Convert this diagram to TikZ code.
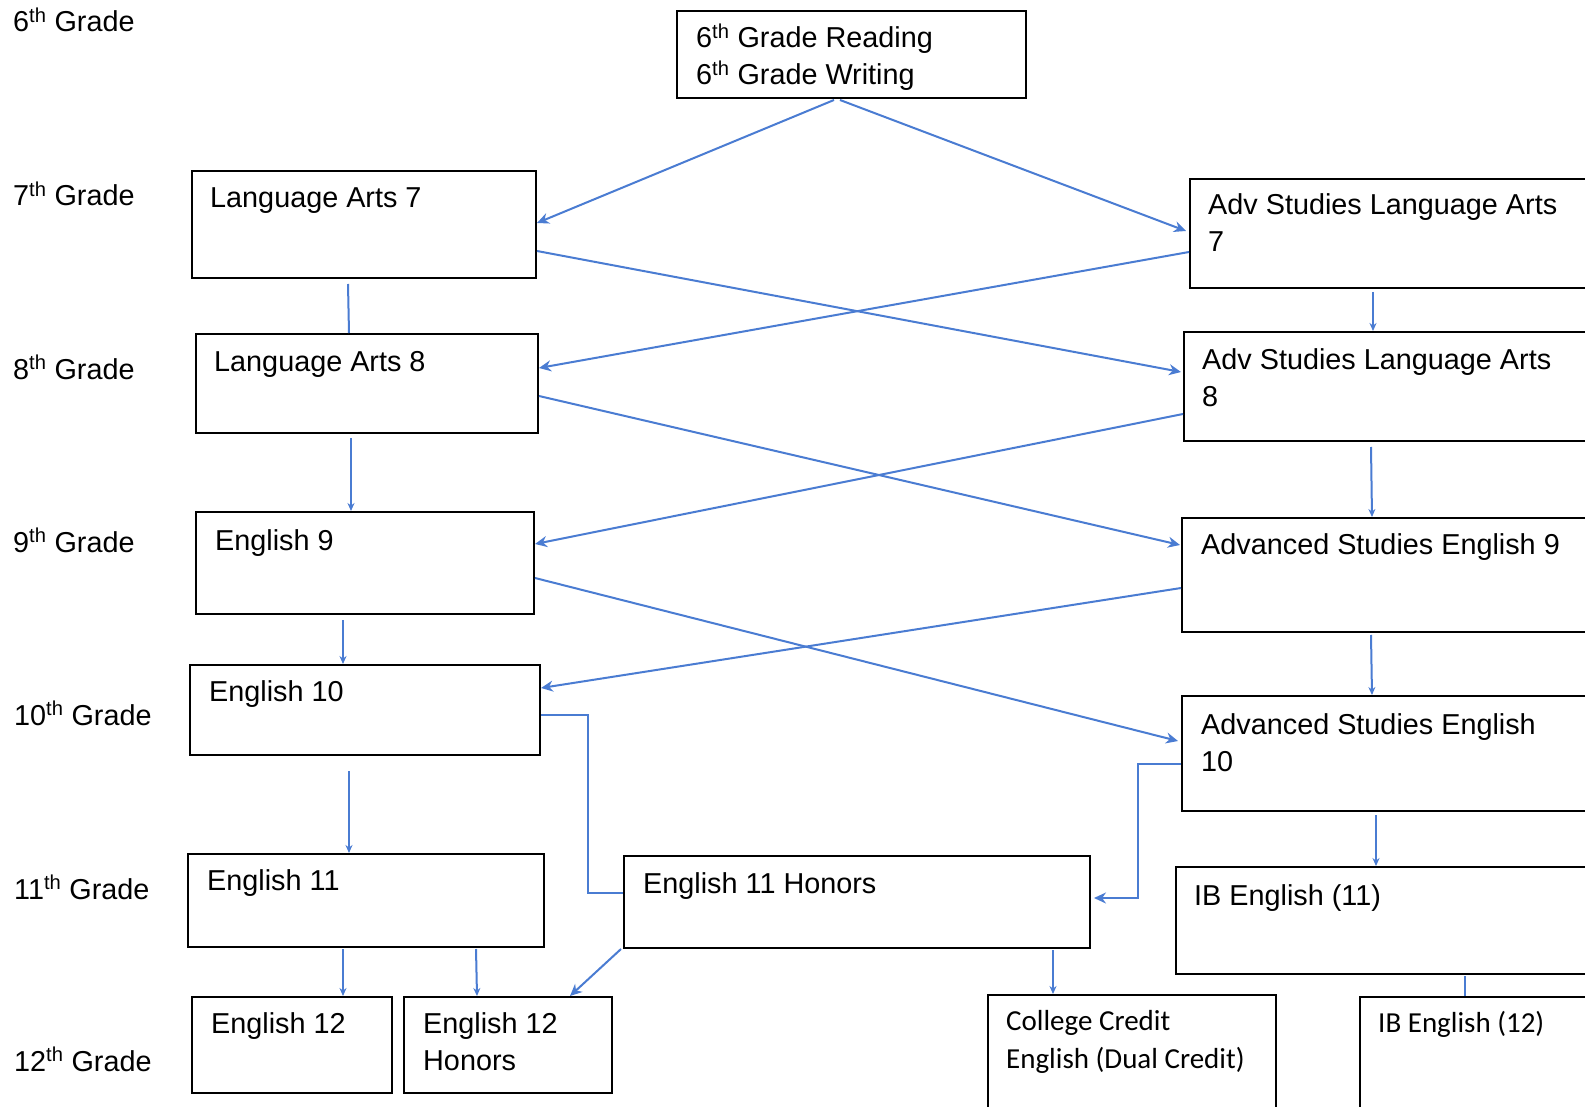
\documentclass[tikz,border=0pt]{standalone}
\usepackage{fontspec}
\setmainfont{Liberation Sans}
\newfontfamily\calfont{Carlito}
\usetikzlibrary{fit,arrows.meta}
\definecolor{lineblue}{RGB}{74,124,210}
\begin{document}
\begin{tikzpicture}[x=1pt,y=-1pt,
  box/.style={draw=black, line width=2pt, inner sep=0pt},
  txt/.style={anchor=base west, inner sep=0pt, align=left, font=\fontsize{28.8}{37}\selectfont},
  ctxt/.style={anchor=base west, inner sep=0pt, align=left, font=\calfont\fontsize{29}{38}\selectfont},
  conn/.style={draw=lineblue, line width=2pt},
  arr/.style={conn, -{Stealth[length=12pt,width=11pt]}},
  sarr/.style={conn, -{Stealth[length=8pt,width=7pt]}}]
\useasboundingbox (0,0) rectangle (1585,1107);
\clip (0,0) rectangle (1585,1107);
\fill[white] (0,0) rectangle (1585,1107);

% grade labels
\node[txt] (g6) at (13,32) {6\textsuperscript{th} Grade};
\node[txt] (g7) at (13,206) {7\textsuperscript{th} Grade};
\node[txt] (g8) at (13,379) {8\textsuperscript{th} Grade};
\node[txt] (g9) at (13,552) {9\textsuperscript{th} Grade};
\node[txt] (g10) at (14,725) {10\textsuperscript{th} Grade};
\node[txt] (g11) at (14,899) {11\textsuperscript{th} Grade};
\node[txt] (g12) at (14,1071) {12\textsuperscript{th} Grade};

% boxes
\node[box, fit={(677,11) (1026,98)}] (top) {};
\node[box, fit={(192,171) (536,278)}] (la7) {};
\node[box, fit={(1190,179) (1600,288)}] (ala7) {};
\node[box, fit={(196,334) (538,433)}] (la8) {};
\node[box, fit={(1184,332) (1600,441)}] (ala8) {};
\node[box, fit={(196,512) (534,614)}] (e9) {};
\node[box, fit={(1182,518) (1600,632)}] (ae9) {};
\node[box, fit={(190,665) (540,755)}] (e10) {};
\node[box, fit={(1182,696) (1600,811)}] (ae10) {};
\node[box, fit={(188,854) (544,947)}] (e11) {};
\node[box, fit={(624,856) (1090,948)}] (e11h) {};
\node[box, fit={(1176,867) (1600,974)}] (ib11) {};
\node[box, fit={(192,997) (392,1093)}] (e12) {};
\node[box, fit={(404,997) (612,1093)}] (e12h) {};
\node[box, fit={(988,995) (1276,1130)}] (cc) {};
\node[box, fit={(1360,997) (1600,1130)}] (ib12) {};

% box texts (two-line texts: base anchor is on the last line)
\node[txt] (topt) at (696,85) {6\textsuperscript{th} Grade Reading\\6\textsuperscript{th} Grade Writing};
\node[txt] (la7t) at (210,208) {Language Arts 7};
\node[txt] (ala7t) at (1208,252) {Adv Studies Language Arts\\7};
\node[txt] (la8t) at (214,371) {Language Arts 8};
\node[txt] (ala8t) at (1202,406) {Adv Studies Language Arts\\8};
\node[txt] (e9t) at (215,550) {English 9};
\node[txt] (ae9t) at (1201,554) {Advanced Studies English 9};
\node[txt] (e10t) at (209,701) {English 10};
\node[txt] (ae10t) at (1201,771) {Advanced Studies English\\10};
\node[txt] (e11t) at (207,890) {English 11};
\node[txt] (e11ht) at (643,893) {English 11 Honors};
\node[txt] (ib11t) at (1194,905) {IB English (11)};
\node[txt] (e12t) at (211,1033) {English 12};
\node[txt] (e12ht) at (423,1070) {English 12\\Honors};
\node[ctxt] (cct) at (1006,1068) {College Credit\\English (Dual Credit)};
\node[ctxt] (ib12t) at (1378,1032) {IB English (12)};

% connectors
\draw[arr] ([shift={(158,1)}]top.south west) -- ([shift={(0,53)}]la7.north east);
\draw[arr] ([shift={(164,1)}]top.south west) -- ([shift={(-3,53)}]ala7.north west);
\draw[arr] ([shift={(0,81)}]la7.north east) -- ([shift={(-2,41)}]ala8.north west);
\draw[arr] ([shift={(0,74)}]ala7.north west) -- ([shift={(0,35)}]la8.north east);
\draw[conn] ([shift={(157,5)}]la7.south west) -- ([shift={(154,0)}]la8.north west);
\draw[sarr] ([shift={(184,3)}]ala7.south west) -- ([shift={(190,0)}]ala8.north west);
\draw[arr] ([shift={(0,63)}]la8.north east) -- ([shift={(-1,28)}]ae9.north west);
\draw[arr] ([shift={(0,83)}]ala8.north west) -- ([shift={(0,33)}]e9.north east);
\draw[sarr] ([shift={(156,4)}]la8.south west) -- ([shift={(156,0)}]e9.north west);
\draw[sarr] ([shift={(188,5)}]ala8.south west) -- ([shift={(191,0)}]ae9.north west);
\draw[arr] ([shift={(0,67)}]e9.north east) -- ([shift={(-3,46)}]ae10.north west);
\draw[arr] ([shift={(0,71)}]ae9.north west) -- ([shift={(0,24)}]e10.north east);
\draw[sarr] ([shift={(148,5)}]e9.south west) -- ([shift={(154,0)}]e10.north west);
\draw[sarr] ([shift={(190,2)}]ae9.south west) -- ([shift={(191,0)}]ae10.north west);
\draw[conn] ([shift={(0,51)}]e10.north east) -- ++(47,0) |- ([shift={(0,38)}]e11h.north west);
\draw[arr] ([shift={(0,69)}]ae10.north west) -- ++(-43,0) |- ([shift={(3,43)}]e11h.north east);
\draw[sarr] ([shift={(160,15)}]e10.south west) -- ([shift={(162,0)}]e11.north west);
\draw[sarr] ([shift={(195,3)}]ae10.south west) -- ([shift={(201,0)}]ib11.north west);
\draw[sarr] ([shift={(156,1)}]e11.south west) -- ([shift={(152,0)}]e12.north west);
\draw[sarr] ([shift={(289,1)}]e11.south west) -- ([shift={(74,0)}]e12h.north west);
\draw[arr] ([shift={(-2,0)}]e11h.south west) -- ([shift={(167,0)}]e12h.north west);
\draw[sarr] ([shift={(430,1)}]e11h.south west) -- ([shift={(66,0)}]cc.north west);
\draw[conn] ([shift={(290,1)}]ib11.south west) -- ([shift={(106,0)}]ib12.north west);
\end{tikzpicture}
\end{document}
